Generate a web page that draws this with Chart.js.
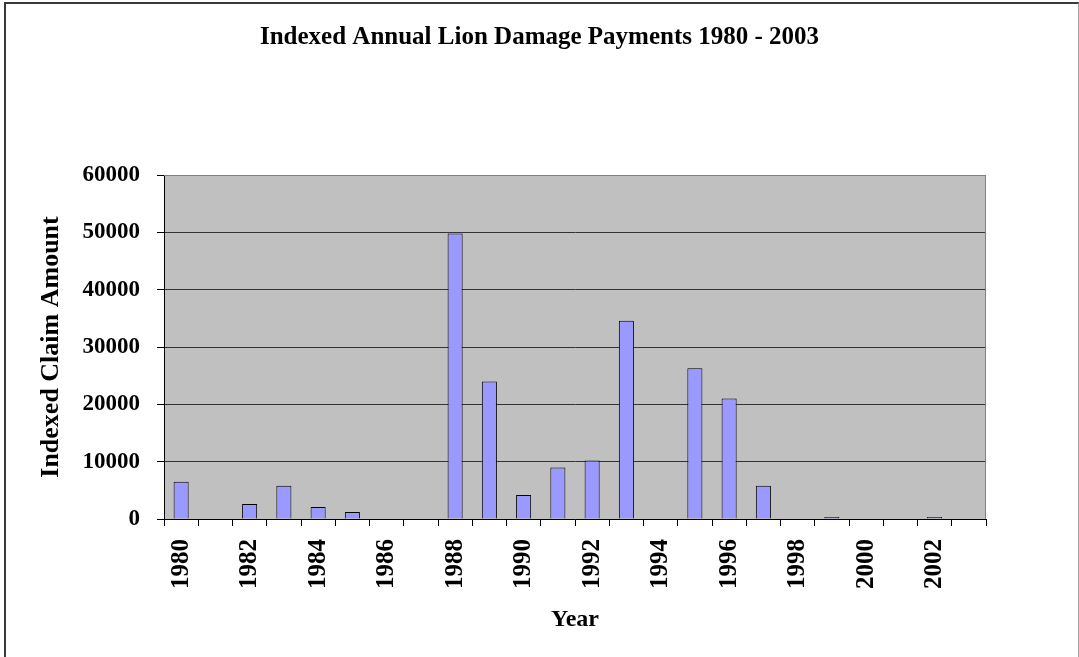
<!DOCTYPE html>
<html>
<head>
<meta charset="utf-8">
<script src="https://cdn.jsdelivr.net/npm/chart.js@4/dist/chart.umd.min.js"></script>
<style>
  html, body { margin: 0; padding: 0; background: #fff; overflow: hidden; }
  #wrap { position: relative; width: 1079px; height: 657px; }
  #frame { position: absolute; left: 4px; top: 2px; width: 1072px; height: 700px;
           border-left: 2px solid #3a3a3a; border-top: 2px solid #3a3a3a; border-right: 1px solid #a0a0a0;
           pointer-events: none; }
  canvas { position: absolute; left: 0; top: 0; }
</style>
</head>
<body>
<div id="wrap">
  <canvas id="c" width="1079" height="657"></canvas>
  <div id="frame"></div>
</div>
<script>
// ---- data ----
const years = ['1980','1981','1982','1983','1984','1985','1986','1987','1988','1989','1990','1991',
               '1992','1993','1994','1995','1996','1997','1998','1999','2000','2001','2002','2003'];
const claimAmounts = [6500, 0, 2600, 5800, 2100, 1200, 0, 0, 49800, 24000, 4200, 9000,
                      10200, 34600, 0, 26300, 21000, 5800, 0, 350, 0, 0, 350, 0];
const xTickLabels = ['1980','1982','1984','1986','1988','1990','1992','1994','1996','1998','2000','2002'];
const yTickValues = [0, 10000, 20000, 30000, 40000, 50000, 60000];

const chartTitle = 'Indexed Annual Lion Damage Payments 1980 - 2003';
const xTitle = 'Year';
const yTitle = 'Indexed Claim Amount';

// ---- chart ----
const FONT = "'Liberation Serif', 'Times New Roman', serif";

const plotBg = {
  id: 'plotBg',
  beforeDraw(chart) {
    const {ctx, chartArea: a} = chart;
    ctx.save();
    ctx.fillStyle = '#C0C0C0';
    ctx.fillRect(a.left, a.top, a.right - a.left, a.bottom - a.top);
    ctx.restore();
  },
  afterDatasetsDraw(chart) {
    const {ctx, chartArea: a} = chart;
    ctx.save();
    ctx.strokeStyle = '#808080';
    ctx.lineWidth = 1;
    ctx.beginPath();
    ctx.moveTo(a.left, a.top + 0.5);
    ctx.lineTo(a.right - 0.5, a.top + 0.5);
    ctx.lineTo(a.right - 0.5, a.bottom);
    ctx.stroke();
    ctx.restore();
  }
};

new Chart(document.getElementById('c'), {
  type: 'bar',
  data: {
    labels: years,
    datasets: [{
      data: claimAmounts,
      backgroundColor: '#9999FF',
      borderColor: '#000000',
      borderWidth: 1,
      barPercentage: 0.44,
      categoryPercentage: 1.0
    }]
  },
  options: {
    responsive: false,
    animation: false,
    devicePixelRatio: 1,
    layout: { padding: 0 },
    plugins: {
      legend: { display: false },
      tooltip: { enabled: false },
      title: {
        display: true,
        text: chartTitle,
        color: '#000',
        font: { family: FONT, size: 25, weight: 'bold' },
        padding: { top: 23, bottom: 122 }
      }
    },
    scales: {
      x: {
        grid: { offset: true, drawOnChartArea: false, drawTicks: true, tickLength: 7, color: '#000', tickColor: '#000' },
        border: { color: '#000', width: 1 },
        ticks: {
          autoSkip: false, minRotation: 90, maxRotation: 90, padding: 13,
          color: '#000',
          font: { family: FONT, size: 25, weight: 'bold' },
          callback: function(v, i) { const l = this.getLabelForValue(v); return xTickLabels.includes(l) ? l : ''; }
        },
        title: {
          display: true, text: xTitle, color: '#000',
          font: { family: FONT, size: 24, weight: 'bold' },
          padding: { top: 0, bottom: 23 }
        },
        afterFit(scale) { scale.height = 138; }
      },
      y: {
        min: 0, max: 60000,
        afterBuildTicks(scale) { scale.ticks = yTickValues.map(v => ({ value: v })); },
        grid: {
          color: ctx => (ctx.tick && ctx.tick.value === 60000) ? '#808080' : '#333333',
          tickColor: '#000', tickLength: 7, lineWidth: 1
        },
        border: { color: '#000', width: 1 },
        ticks: {
          padding: 17, color: '#000',
          font: { family: FONT, size: 23, weight: 'bold' },
          callback: v => String(v)
        },
        title: {
          display: true, text: yTitle, color: '#000',
          font: { family: FONT, size: 26, weight: 'bold' },
          padding: { top: 36, bottom: 0 }
        },
        afterFit(scale) { scale.width = 164; }
      },
      yRightSpace: {
        position: 'right',
        display: true,
        min: 0, max: 60000,
        grid: { display: false, drawTicks: false },
        border: { display: false },
        ticks: { display: false },
        afterFit(scale) { scale.width = 93; }
      }
    }
  },
  plugins: [plotBg]
});
</script>
</body>
</html>
